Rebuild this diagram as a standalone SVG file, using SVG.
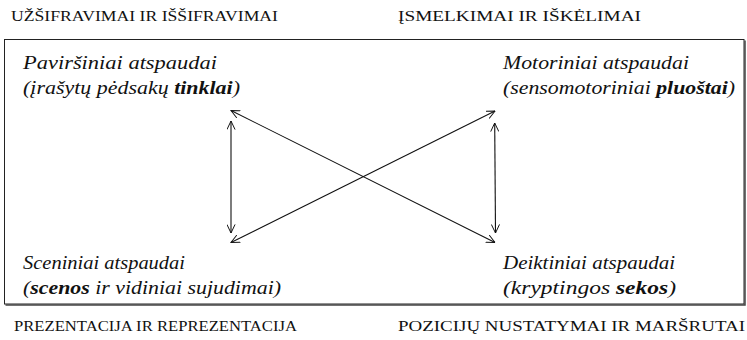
<svg xmlns="http://www.w3.org/2000/svg" width="747" height="340" viewBox="0 0 747 340">
<style>
text{font-family:'Liberation Serif','DejaVu Serif',serif;fill:#111;}
.hd{font-size:15.5px;}
.it{font-size:19px;font-style:italic;}
.b{font-weight:bold;}
.ln{stroke:#111;stroke-width:1.1;fill:none;marker-start:url(#ah);marker-end:url(#ah);}
</style>
<defs>
<marker id="ah" viewBox="0 0 10 10" refX="9.5" refY="5" markerWidth="9" markerHeight="9" markerUnits="userSpaceOnUse" orient="auto-start-reverse">
<path d="M0,0.5 L9.5,5 L0,9.5" fill="none" stroke="#111" stroke-width="1.1"/>
</marker>
</defs>
<rect x="4.5" y="39.5" width="739.5" height="264.5" fill="#fff" stroke="#222" stroke-width="1"/>
<path d="M745,40.5 V305 H5.5" fill="none" stroke="#444" stroke-width="1.5"/>
<g id="header-tl"><text class="hd" x="11" y="21" textLength="267" lengthAdjust="spacingAndGlyphs">UŽŠIFRAVIMAI IR IŠŠIFRAVIMAI</text></g>
<g id="header-tr"><text class="hd" x="398" y="21" textLength="243" lengthAdjust="spacingAndGlyphs">ĮSMELKIMAI IR IŠKĖLIMAI</text></g>
<g id="header-bl"><text class="hd" x="14" y="331" textLength="283" lengthAdjust="spacingAndGlyphs">PREZENTACIJA IR REPREZENTACIJA</text></g>
<g id="header-br"><text class="hd" x="398" y="331" textLength="347" lengthAdjust="spacingAndGlyphs">POZICIJŲ NUSTATYMAI IR MARŠRUTAI</text></g>
<g id="node-tl">
<text class="it" x="23" y="69" textLength="194" lengthAdjust="spacingAndGlyphs">Paviršiniai atspaudai</text>
<text class="it" x="23" y="94" textLength="217" lengthAdjust="spacingAndGlyphs">(įrašytų pėdsakų <tspan class="b">tinklai</tspan>)</text>
</g>
<g id="node-tr">
<text class="it" x="503" y="69" textLength="186" lengthAdjust="spacingAndGlyphs">Motoriniai atspaudai</text>
<text class="it" x="503" y="94" textLength="232" lengthAdjust="spacingAndGlyphs">(sensomotoriniai <tspan class="b">pluoštai</tspan>)</text>
</g>
<g id="node-bl">
<text class="it" x="23" y="269" textLength="162" lengthAdjust="spacingAndGlyphs">Sceniniai atspaudai</text>
<text class="it" x="23" y="294" textLength="258" lengthAdjust="spacingAndGlyphs">(<tspan class="b">scenos</tspan> ir vidiniai sujudimai)</text>
</g>
<g id="node-br">
<text class="it" x="503" y="269" textLength="172" lengthAdjust="spacingAndGlyphs">Deiktiniai atspaudai</text>
<text class="it" x="503" y="294" textLength="173" lengthAdjust="spacingAndGlyphs">(kryptingos <tspan class="b">sekos</tspan>)</text>
</g>
<g id="connectors">
<line class="ln" x1="231" y1="121" x2="231" y2="233"/>
<line class="ln" x1="494.7" y1="123" x2="495.5" y2="233"/>
<line class="ln" x1="231" y1="110.5" x2="495" y2="242.5"/>
<line class="ln" x1="495" y1="111" x2="231" y2="242.5"/>
</g>
</svg>
